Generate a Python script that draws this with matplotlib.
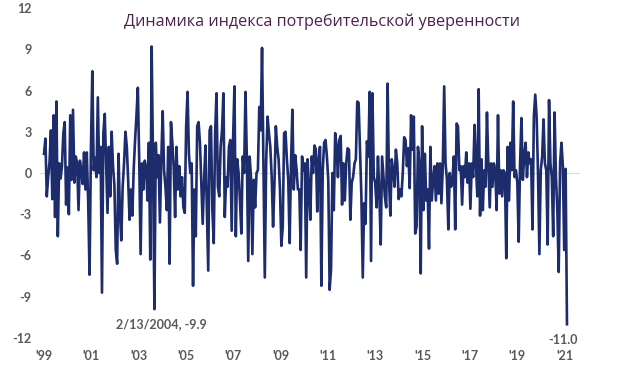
import numpy as np
import matplotlib
matplotlib.use("Agg")
import matplotlib.pyplot as plt

TITLE = "Динамика индекса потребительской уверенности"
START_YEAR = 1999.0
END_YEAR = 2021.1

vals_1999_2004 = [
    1.4, 2.5, -1.7, -0.3, 0.8, 3.1, -1.9, 4.2, -3.2, 5.2,
    -4.6, 0.7, -0.4, 0.5, 2.9, 3.7, -2.3, 0.4, -3.0, 4.2,
    -0.5, 4.6, -0.7, 1.2, 0.7, -2.7, 0.9, 0.2, -0.8, 1.5,
    -1.2, 1.5, -2.1, -7.4, 1.8, 7.4, 0.2, 1.1, -0.3, 5.5,
    0.0, 1.9, -8.7, 2.9, 4.3, 0.6, -2.9, 1.9, -1.7, 3.0,
    0.5, -0.9, -5.6, -6.6, 1.4, -2.9, -4.9, -1.0, 0.7, 3.0,
    1.9, -0.6, -3.4, -1.2, -3.1, 0.3, 2.4, 4.2, 6.2, 0.9,
    -5.9, 0.7, -1.2, 0.9, 0.4, -2.0, 2.2, -6.3, 9.2, 0.7,
    -9.9, 2.2, -0.3, 1.3, -3.6, 1.0, 4.5, 0.2, -1.0, -2.7,
    1.9, -6.6,
]
vals_2004_2010 = [
    3.7, 2.2, 0.4, -3.2, 1.9, -1.2, 0.5, -1.7, -0.3, -2.5,
    -2.9, 3.4, 5.9, 1.4, 0.0, 0.7, -8.2, -1.2, -4.6, 3.4,
    3.7, 2.2, -0.7, -3.7, -0.5, 2.0, -2.5, -7.1, 3.1, 3.4,
    -2.7, -5.1, 2.9, 5.8, -1.0, -1.7, 1.9, 3.1, 5.8, -3.2,
    -0.3, -1.0, 1.9, 2.4, -4.2, 2.4, 6.3, -4.6, 1.0, 0.0,
    -2.0, -4.4, 1.2, 0.0, 5.9, 1.0, -6.4, 1.2, -0.3, -5.9,
    -0.5, -2.5, 0.0, 0.2, 4.8, 3.1, 9.1, 0.7, -7.6, 0.8,
    4.1, 2.9, 1.9, -0.3, -3.9, -0.8, 3.4, 1.9, 1.0, -1.2,
    -5.3, -3.9, 2.9, 3.0, 1.0, -0.5, -5.1, 0.7, 4.6, -1.2,
    1.3, 0.3, -1.2, -1.2, -5.6,
]
vals_2010_2015 = [
    1.2, 0.2, 0.7, -7.6, 1.0, -1.0, -3.4, 1.2, 0.0, 2.0,
    1.7, -2.8, 1.0, 1.9, -8.2, 0.2, 2.2, 2.4, 1.2, -0.5,
    -8.5, -7.0, 0.0, -2.7, 2.9, 2.0, -0.3, 2.4, 2.7, -2.3,
    0.7, -2.0, 0.7, 1.8, 1.7, -3.4, -0.7, -0.3, 0.7, 1.0,
    5.2, 5.1, 1.7, -1.7, -7.6, -2.2, -3.7, 2.3, 1.2, 5.9,
    -6.4, 5.8, -0.3, -0.7, -2.5, 1.2, -1.5, -5.2, 1.2, -0.3,
    -1.7, -2.5, 6.5, -0.5, -3.1, 1.0, 0.2, -1.0, 1.7, 0.7,
    -1.9, -1.2, -1.7, 0.0, 2.6, 2.4, 0.5, 1.8, -1.1, 4.2,
    1.7, 4.1, -4.4, -3.9, 1.9, 0.7, -7.3, 3.4, -2.7, 1.4,
    -2.0, -1.2, -5.5, 1.9, -2.0, -0.5, 0.5,
]
vals_2015_2021 = [
    -2.0, 0.7, -1.5, 0.7, -2.2, 0.5, 6.3, 0.7, -0.5, -4.1,
    0.0, -1.0, -0.5, 1.2, -4.1, 3.6, 3.4, 0.2, 0.5, -2.3,
    0.5, -0.3, 1.5, -0.7, 0.7, -2.6, 0.7, -0.3, 3.5, 0.7,
    -1.7, 6.1, -3.1, 1.0, -2.7, 0.2, -1.0, 4.4, 0.7, -2.5,
    0.7, -1.0, 0.7, 0.2, -2.7, 4.2, -1.5, 0.2, -1.7, 0.2,
    0.0, -6.2, 1.9, -2.0, 2.2, 0.2, 5.2, -0.3, 0.2, -0.7,
    -5.0, 0.7, 4.0, -0.5, 1.2, 2.2, -0.3, 1.5, 0.7, 1.0,
    -4.1, 4.1, 5.7, 4.1, 0.0, -5.9, 0.2, 1.2, 3.9, 0.7,
    0.2, -5.2, 5.3, 0.7, -0.3, -4.6, 4.4, -0.3, -2.7, -7.2,
    0.7, 2.2, 0.5, -5.6, 0.3, -11.0,
]

tick_years = [1999, 2001, 2003, 2005, 2007, 2009, 2011, 2013, 2015, 2017, 2019, 2021]
tick_labels = ["'99", "'01", "'03", "'05", "'07", "'09", "'11", "'13", "'15", "'17", "'19", "'21"]
y_ticks = [-12, -9, -6, -3, 0, 3, 6, 9, 12]
low_label = "2/13/2004, -9.9"
low_value = -9.9
last_label = "-11.0"

values = np.array(vals_1999_2004 + vals_2004_2010 + vals_2010_2015 + vals_2015_2021)
x = np.linspace(START_YEAR, END_YEAR, len(values))

LINE = "#1C2C6C"
GREY = "#595959"
FONT = ["Lato", "DejaVu Sans"]

fig = plt.figure(figsize=(6.24, 3.70), dpi=100)
ax = fig.add_axes([40 / 624, 1 - 338 / 370, 540 / 624, 330 / 370])
ax.axhline(0, color="#DADADA", lw=0.8, zorder=1)
ax.plot(x, values, color=LINE, lw=1.9, zorder=2)
ax.set_xlim(1998.83, 2021.65)
ax.set_ylim(-12, 12)
ax.set_yticks(y_ticks)
ax.set_yticklabels([str(v) for v in y_ticks])
ax.set_xticks(tick_years)
ax.set_xticklabels(tick_labels)
for s in ax.spines.values():
    s.set_visible(False)
ax.tick_params(length=0, labelsize=9, labelcolor=GREY)
ax.tick_params(axis="y", pad=6)
ax.tick_params(axis="x", pad=9)
for lab in ax.get_xticklabels() + ax.get_yticklabels():
    lab.set_fontfamily(FONT)
    lab.set_fontweight("bold")

fig.text(322 / 624, 1 - 22 / 370, TITLE, ha="center", va="center",
         fontsize=11.6, color="#4E1F50", family=["Open Sans", "DejaVu Sans"])

i_low = int(np.where(np.isclose(values, low_value))[0][0])
ax.annotate(low_label, xy=(x[i_low], values[i_low]), xytext=(5, -10.5),
            textcoords="offset points", ha="center", va="center",
            fontsize=9, color=GREY, family=FONT, fontweight="bold")
ax.annotate(last_label, xy=(x[-1], values[-1]), xytext=(-3, -11),
            textcoords="offset points", ha="center", va="center",
            fontsize=9, color=GREY, family=FONT, fontweight="bold")

fig.savefig("out.png", dpi=100)
